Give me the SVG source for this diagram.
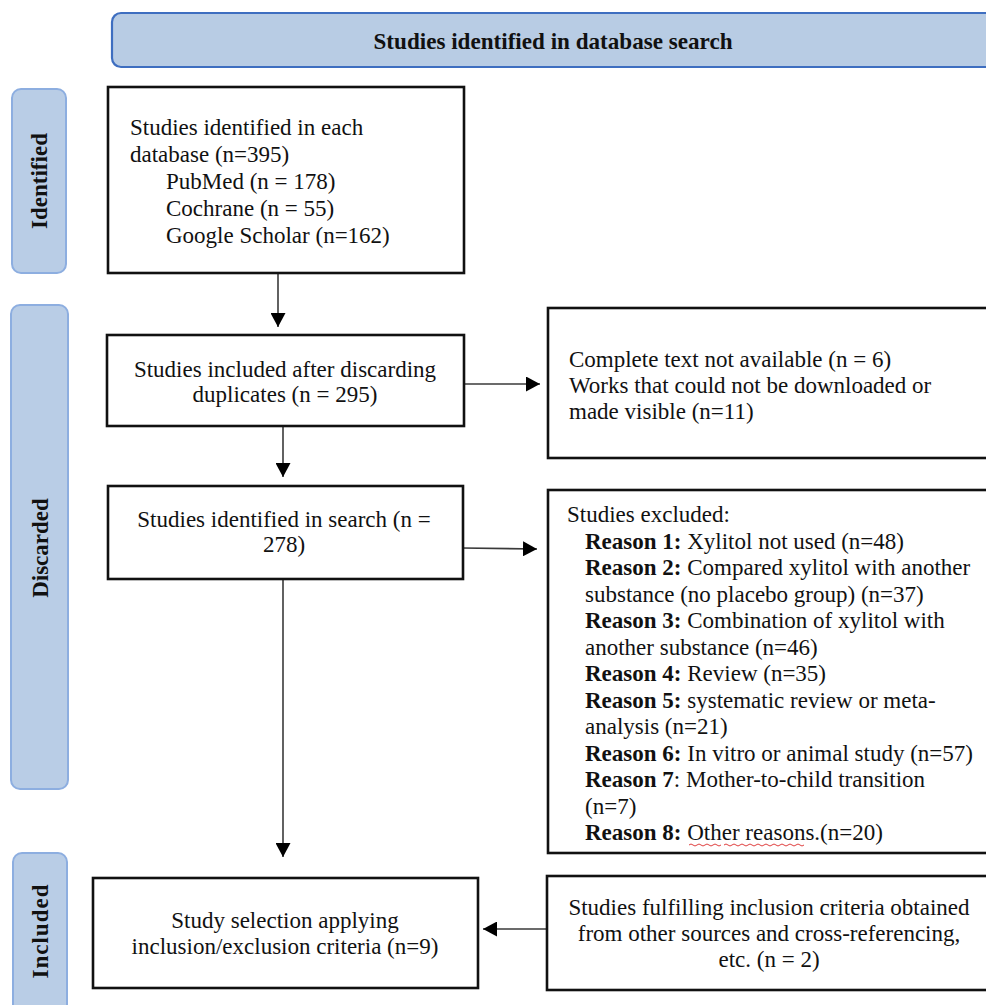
<svg xmlns="http://www.w3.org/2000/svg" width="986" height="1005" viewBox="0 0 986 1005">
<style>
.bg{fill:#ffffff}
.box{fill:#ffffff;stroke:#111111;stroke-width:2.6}
.lab{fill:#b9cde6;stroke:#8daee0;stroke-width:2}
.ban{fill:#b8cce4;stroke:#3e6ec0;stroke-width:2.2}
.t{font-family:"Liberation Serif","Times New Roman",serif;font-size:23px;fill:#111111}
.c{text-anchor:middle}
.b{font-weight:bold}
.lt{font-family:"Liberation Serif","Times New Roman",serif;font-size:23px;font-weight:bold;fill:#111111;text-anchor:middle}
.conn{stroke:#3a3a3a;stroke-width:1.6;fill:none}
</style>
<defs>
<marker id="ah" markerWidth="14" markerHeight="15" refX="14" refY="7.5" orient="auto" markerUnits="userSpaceOnUse">
<path d="M0,0 L14,7.5 L0,15 Z" fill="#000000"/>
</marker>
</defs>
<rect class="bg" x="0" y="0" width="986" height="1005"/>

<g id="banner">
<rect class="ban" x="112" y="13" width="890" height="54" rx="9"/>
<text class="t b c" x="553" y="49" font-size="24" textLength="359" lengthAdjust="spacingAndGlyphs">Studies identified in database search</text>
</g>

<g id="label-identified">
<rect class="lab" x="12" y="89" width="54" height="184" rx="9"/>
<text class="lt" transform="translate(47,181) rotate(-90)">Identified</text>
</g>
<g id="label-discarded">
<rect class="lab" x="11" y="305" width="57" height="484" rx="9"/>
<text class="lt" transform="translate(48,548) rotate(-90)" font-size="22">Discarded</text>
</g>
<g id="label-included">
<rect class="lab" x="13" y="853" width="54" height="170" rx="9"/>
<text class="lt" transform="translate(48,931) rotate(-90)" letter-spacing="1">Included</text>
</g>

<g id="connectors">
<line class="conn" x1="278" y1="273" x2="278" y2="327" marker-end="url(#ah)"/>
<line class="conn" x1="283" y1="426" x2="283" y2="477" marker-end="url(#ah)"/>
<line class="conn" x1="283" y1="579" x2="283" y2="857" marker-end="url(#ah)"/>
<line class="conn" x1="465" y1="384" x2="540" y2="384" marker-end="url(#ah)"/>
<line class="conn" x1="462" y1="548" x2="537" y2="549" marker-end="url(#ah)"/>
<line class="conn" x1="547" y1="929" x2="483" y2="929" marker-end="url(#ah)"/>
</g>

<g id="box-identified">
<rect class="box" x="108" y="87" width="356" height="186"/>
<text class="t" x="130" y="135">Studies identified in each</text>
<text class="t" x="130" y="162">database (n=395)</text>
<text class="t" x="166" y="189">PubMed (n = 178)</text>
<text class="t" x="166" y="216">Cochrane (n = 55)</text>
<text class="t" x="166" y="243">Google Scholar (n=162)</text>
</g>

<g id="box-duplicates">
<rect class="box" x="107" y="335" width="357" height="91"/>
<text class="t c" x="285" y="377">Studies included after discarding</text>
<text class="t c" x="285" y="402">duplicates (n = 295)</text>
</g>

<g id="box-search">
<rect class="box" x="108" y="486" width="355" height="93"/>
<text class="t c" x="284" y="527">Studies identified in search (n =</text>
<text class="t c" x="284" y="552">278)</text>
</g>

<g id="box-notavailable">
<rect class="box" x="548" y="308" width="446" height="150"/>
<text class="t" x="569" y="367">Complete text not available (n = 6)</text>
<text class="t" x="569" y="393">Works that could not be downloaded or</text>
<text class="t" x="569" y="419">made visible (n=11)</text>
</g>

<g id="box-excluded">
<rect class="box" x="548" y="490" width="446" height="363"/>
<text class="t" x="567" y="522">Studies excluded:</text>
<text class="t" x="585" y="548.5"><tspan class="b">Reason 1:</tspan> Xylitol not used (n=48)</text>
<text class="t" x="585" y="575"><tspan class="b">Reason 2:</tspan> Compared xylitol with another</text>
<text class="t" x="585" y="601.5">substance (no placebo group) (n=37)</text>
<text class="t" x="585" y="628"><tspan class="b">Reason 3:</tspan> Combination of xylitol with</text>
<text class="t" x="585" y="654.5">another substance (n=46)</text>
<text class="t" x="585" y="681"><tspan class="b">Reason 4:</tspan> Review (n=35)</text>
<text class="t" x="585" y="707.5"><tspan class="b">Reason 5:</tspan> systematic review or meta-</text>
<text class="t" x="585" y="734">analysis (n=21)</text>
<text class="t" x="585" y="760.5"><tspan class="b">Reason 6:</tspan> In vitro or animal study (n=57)</text>
<text class="t" x="585" y="787"><tspan class="b">Reason 7</tspan>: Mother-to-child transition</text>
<text class="t" x="585" y="813.5">(n=7)</text>
<text class="t" x="585" y="840"><tspan class="b">Reason 8:</tspan> Other reasons.(n=20)</text>
<path d="M689,845 q2,-2 4,0 t4,0 t4,0 t4,0 t4,0 t4,0 t4,0 t4,0 M724,845 q2,-2 4,0 t4,0 t4,0 t4,0 t4,0 t4,0 t4,0 t4,0 t4,0 t4,0 t4,0 t4,0 t4,0 t4,0 t4,0 t4,0 t4,0 t4,0 t4,0 t4,0" fill="none" stroke="#e04040" stroke-width="1"/>
</g>

<g id="box-selection">
<rect class="box" x="93" y="878" width="385" height="110"/>
<text class="t c" x="285" y="928">Study selection applying</text>
<text class="t c" x="285" y="954">inclusion/exclusion criteria (n=9)</text>
</g>

<g id="box-othersources">
<rect class="box" x="547" y="876" width="447" height="114"/>
<text class="t c" x="769" y="915">Studies fulfilling inclusion criteria obtained</text>
<text class="t c" x="769" y="941">from other sources and cross-referencing,</text>
<text class="t c" x="769" y="967">etc. (n = 2)</text>
</g>
</svg>
